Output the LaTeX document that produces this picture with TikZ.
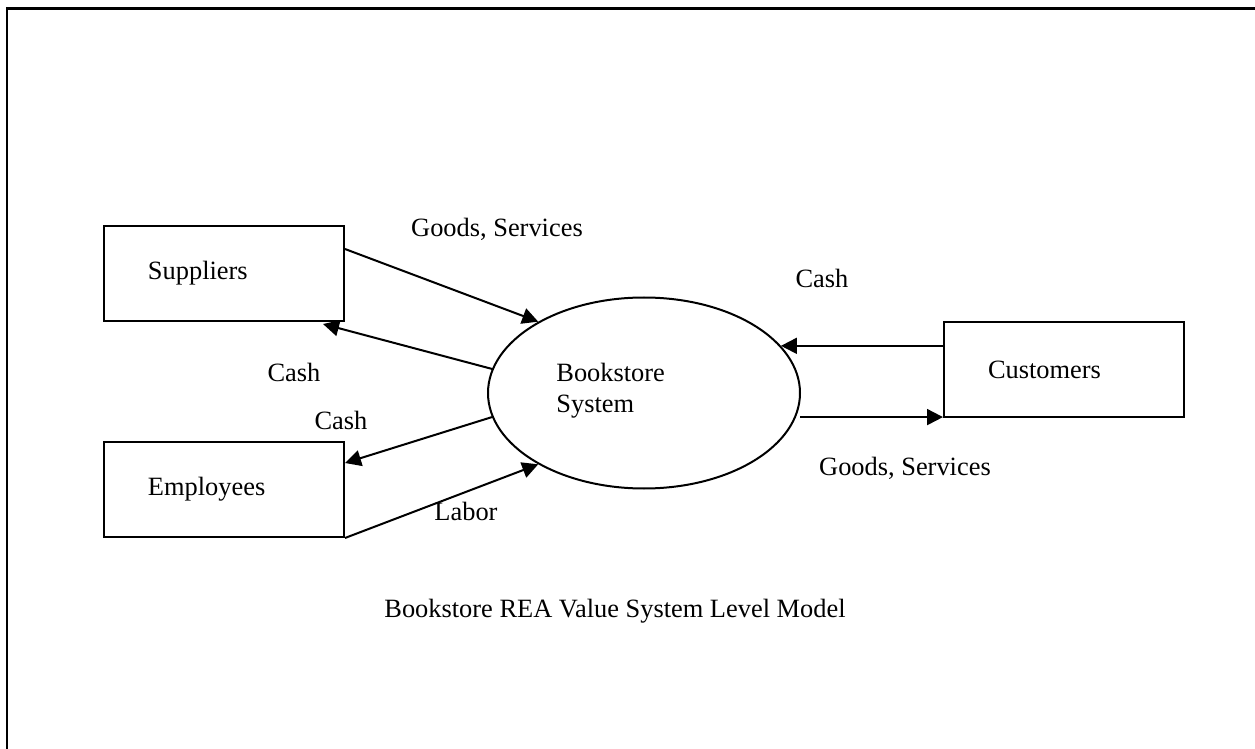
\documentclass[tikz,border=0pt]{standalone}
\usepackage{fontspec}
\setmainfont{Liberation Serif}
\usetikzlibrary{arrows.meta,shapes.geometric}

\begin{document}
\begin{tikzpicture}[x=0.5pt,y=-0.5pt,
  every node/.style={font=\fontsize{13.2}{15.5}\selectfont},
  party/.style={draw, line width=1pt, rectangle, minimum width=120pt,
    minimum height=47.5pt, inner xsep=22pt, text width=76pt, align=left},
  process/.style={draw, line width=1pt, ellipse, inner sep=0pt,
    minimum width=156pt, minimum height=95.5pt},
  flow/.style={line width=1pt, -{Triangle[length=8pt,width=8pt]}},
  lbl/.style={inner sep=0pt}]

\useasboundingbox (0,0) rectangle (1255,749);

% page frame (left and top edges)
\draw[line width=1.25pt] (7,749) -- (7,8.5) -- (1255,8.5);

% external agents and the system
\node[party] (sup) at (224,273.5) {Suppliers};
\node[party] (emp) at (224,489.5) {Employees};
\node[party] (cus) at (1064,369.5) {Customers};
\node[process] (sys) at (644,393) {};
\node[lbl, anchor=west, align=left] (syslbl) at (556,391) {Bookstore\\System};

% resource flows
\draw[flow] ([yshift=-12pt]sup.north east) -- (sys.146);
\draw[flow] (sys.171) -- ([xshift=-11pt,yshift=-1pt]sup.south east);
\draw[flow] (sys.189) -- ([yshift=-11pt]emp.north east);
\draw[flow] (emp.south east) -- (sys.214);
\draw[flow] (sys.19 -| cus.west) -- (sys.19);
\draw[flow] ([xshift=2pt]sys.-9) -- (sys.-9 -| cus.west);

% flow labels
\node[lbl] (gs1) at (497,229) {Goods, Services};
\node[lbl] (cash1) at (822,278) {Cash};
\node[lbl] (cash2) at (294,372) {Cash};
\node[lbl] (cash3) at (341,420) {Cash};
\node[lbl] (labor) at (466,511) {Labor};
\node[lbl] (gs2) at (905,468) {Goods, Services};

% caption
\node[lbl] (caption) at (615,611) {Bookstore REA Value System Level Model};
\end{tikzpicture}
\end{document}
